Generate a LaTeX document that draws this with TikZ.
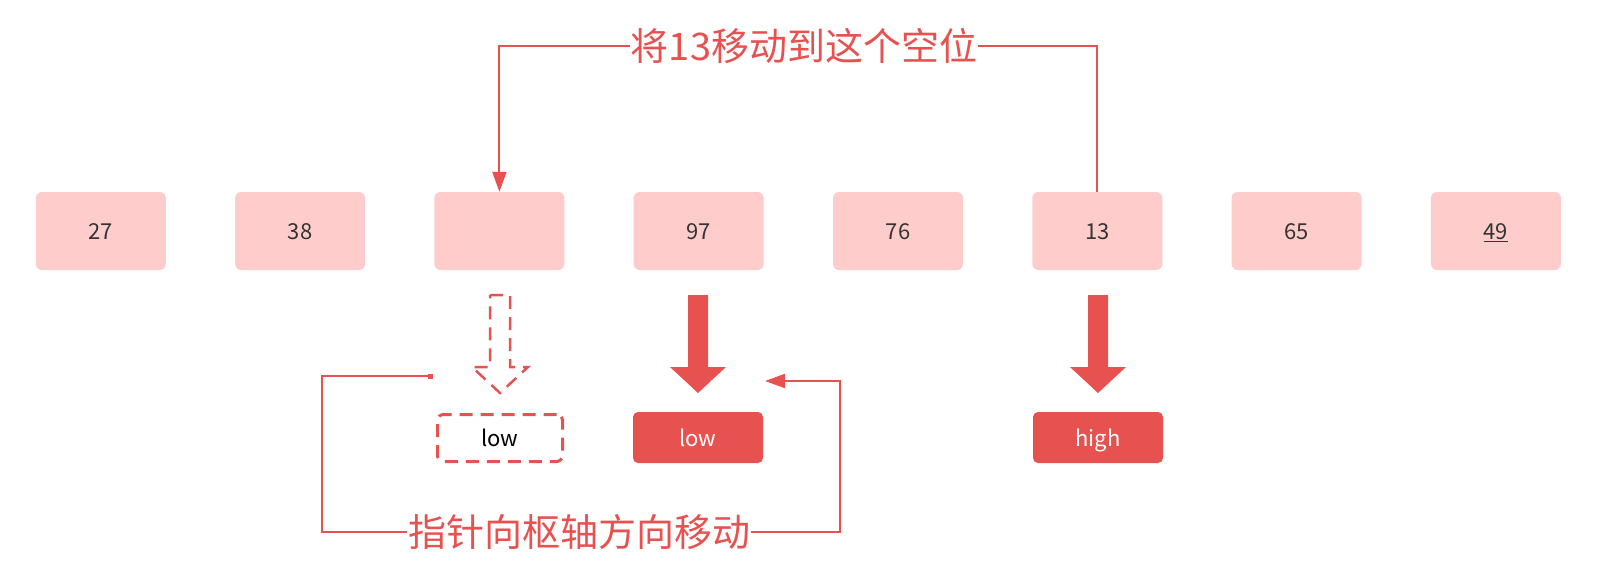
\documentclass[tikz,border=0pt]{standalone}
\usepackage{fontspec}
\setmainfont{Noto Sans CJK SC}
\usetikzlibrary{arrows.meta}
\definecolor{pinkbox}{HTML}{FFCCCC}
\definecolor{redc}{HTML}{E75250}
\definecolor{txt}{HTML}{333333}
\newcommand\blockarrowpath[1]{({#1-10},295) -- ({#1+10},295) -- ({#1+10},367) -- ({#1+28},367) -- (#1,393) -- ({#1-28},367) -- ({#1-10},367) -- cycle}
\begin{document}
\begin{tikzpicture}[x=1pt,y=-1pt,
  cell/.style={fill=pinkbox, rounded corners=6pt, minimum width=130pt, minimum height=78pt, inner sep=0pt, text=txt, font=\fontsize{22}{26}\selectfont, text height=18pt, text depth=1pt},
  ptr/.style={fill=redc, rounded corners=5pt, minimum width=130pt, minimum height=51pt, inner sep=0pt, text=white, font=\fontsize{22}{26}\selectfont, text height=18pt, text depth=1pt},
  ptrdash/.style={draw=redc, line width=3pt, dash pattern=on 13pt off 8pt, rounded corners=6pt, minimum width=125pt, minimum height=47pt, inner sep=0pt, text=black, font=\fontsize{22}{26}\selectfont, text height=18pt, text depth=1pt},
  notetext/.style={text=redc, fill=white, inner sep=1pt, font=\fontsize{38}{44}\selectfont},
  conn/.style={draw=redc, line width=2pt},
  bigarrow/.style={fill=redc},
  dasharrow/.style={draw=redc, line width=2.5pt, dash pattern=on 13pt off 8pt},
]
\useasboundingbox (0,0) rectangle (1597,576);

% array cells
\node[cell] (n0) at (100.8,231) {27};
\node[cell] (n1) at (300.1,231) {38};
\node[cell] (n2) at (499.4,231) {};
\node[cell] (n3) at (698.7,231) {97};
\node[cell] (n4) at (898.0,231) {76};
\node[cell] (n5) at (1097.3,231) {13};
\node[cell] (n6) at (1296.6,231) {65};
\node[cell] (n7) at (1495.9,231) {\underline{49}};

% pointer boxes
\node[ptrdash] (lowold) at (500,438) {low};
\node[ptr] (low) at (698,437.5) {low};
\node[ptr] (high) at (1098,437.5) {high};

% block arrows
\draw[dasharrow] \blockarrowpath{500};
\fill[bigarrow] \blockarrowpath{698};
\fill[bigarrow] \blockarrowpath{1098};

% top connector
\node[notetext] (t1) at (804,46) {将13移动到这个空位};
\draw[conn] (n5.north) |- (t1.east);
\draw[conn,-{Triangle[length=20pt,width=14pt]}] (t1.west) -| (n2.north);

% bottom connector
\node[notetext] (t2) at (579,532) {指针向枢轴方向移动};
\coordinate (lc) at (322,376);
\coordinate (lend) at (433,376);
\coordinate (rc) at (840,381);
\coordinate (rend) at (765,381);
\draw[conn,-{Square[length=5pt,width=5pt]}] (t2.west) -| (lc) -- (lend);
\draw[conn,-{Triangle[length=20pt,width=14pt]}] (t2.east) -| (rc) -- (rend);
\end{tikzpicture}
\end{document}
